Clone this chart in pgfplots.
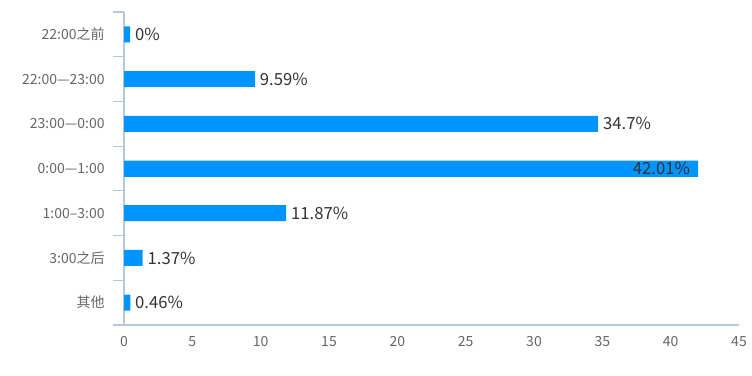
\documentclass[border=0pt]{standalone}
\usepackage{fontspec}
\setmainfont{Noto Sans CJK SC}
\usepackage{pgfplots}
\usepackage{pgfplotstable}
\pgfplotsset{compat=1.18}
\definecolor{barblue}{HTML}{0094FF}
\definecolor{axiscol}{HTML}{B8C8DC}
\definecolor{ticktext}{HTML}{666666}
\definecolor{valtext}{HTML}{333333}
\pgfplotstableread[col sep=comma]{
y,x,lab
0,0.45,0\%
1,9.59,9.59\%
2,34.7,34.7\%
3,42.01,{}
4,11.87,11.87\%
5,1.37,1.37\%
6,0.46,0.46\%
}\mainbars
\pgfplotstableread[col sep=comma]{
y,x,lab
3,42.01,42.01\%
}\insidebar
\begin{document}
\begin{tikzpicture}[x=0.75pt,y=0.75pt]
\useasboundingbox (0,0) rectangle (752,375);
\begin{axis}[
  at={(124*0.75pt,50*0.75pt)}, anchor=south west,
  scale only axis,
  width=615*0.75pt, height=313*0.75pt,
  xmin=0, xmax=45,
  ymin=-0.5, ymax=6.5,
  y dir=reverse,
  axis lines*=left,
  axis line style={draw=none},
  xtick={0,5,...,45},
  ytick={0,...,6},
  yticklabels={22:00之前,22:00—23:00,23:00—0:00,0:00—1:00,1:00–3:00,3:00之后,其他},
  major tick length=0pt,
  tick style={draw=none},
  tick label style={font=\fontsize{10.5}{12}\selectfont, text=ticktext},
  /pgf/number format/assume math mode=true,
  xticklabel style={yshift=-5pt},
  yticklabel style={xshift=-11pt},
  clip=false,
]
\draw[axiscol, line width=0.8pt] ([xshift=-8.25pt]axis cs:0,6.5) -- (axis cs:45,6.5);
\draw[axiscol, line width=0.8pt] (axis cs:0,-0.5) -- (axis cs:0,6.5);
\foreach \k in {-0.5,0.5,1.5,2.5,3.5,4.5,5.5} {
  \edef\temp{\noexpand\draw[axiscol, line width=0.8pt] ([xshift=-8.25pt]axis cs:0,\k) -- (axis cs:0,\k);}
  \temp
}
\addplot[xbar, bar width=12pt, bar shift=0pt, fill=barblue, draw=none,
  point meta=explicit symbolic,
  nodes near coords,
  nodes near coords align={horizontal},
  every node near coord/.append style={font=\fontsize{12.5}{14}\selectfont, text=valtext, anchor=west, inner sep=3.5pt}
] table[x=x, y=y, meta=lab] {\mainbars};
\addplot[xbar, bar width=12pt, bar shift=0pt, fill=barblue, draw=none,
  point meta=explicit symbolic,
  nodes near coords,
  every node near coord/.append style={font=\fontsize{12.5}{14}\selectfont, text=valtext, anchor=east, inner sep=6pt}
] table[x=x, y=y, meta=lab] {\insidebar};
\end{axis}
\end{tikzpicture}
\end{document}
